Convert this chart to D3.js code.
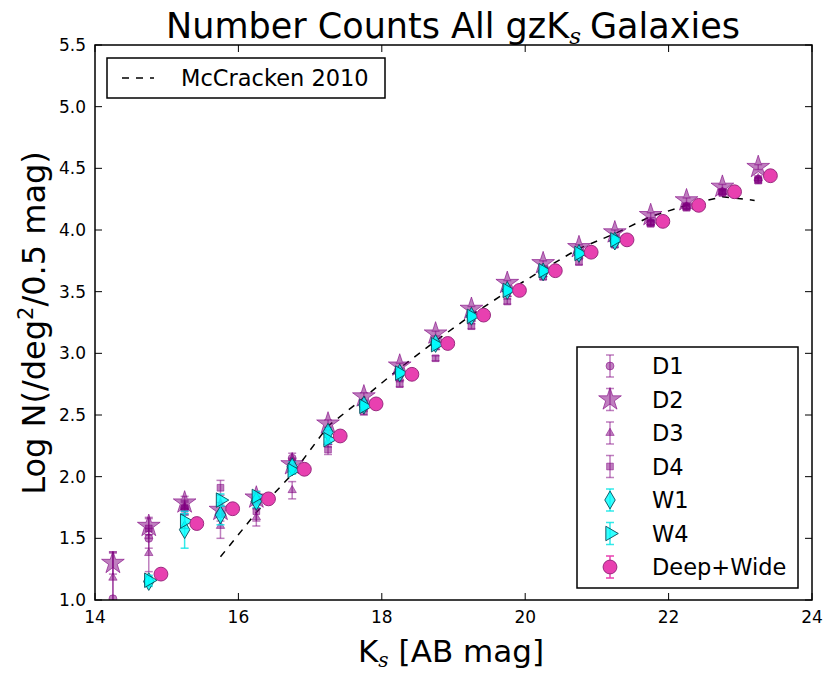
<!DOCTYPE html>
<html><head><meta charset="utf-8">
<script src="https://d3js.org/d3.v7.min.js"></script>
<style>body{margin:0;background:#fff}svg{font-family:"DejaVu Sans",sans-serif}</style>
</head><body><svg id="c" width="825" height="674"></svg>
<script>
const bins = [14.25,14.75,15.25,15.75,16.25,16.75,17.25,17.75,18.25,18.75,19.25,19.75,20.25,20.75,21.25,21.75,22.25,22.75,23.25];
const d1 = [1.01,1.50,1.75,1.70,1.82,2.15,2.35,2.58,2.83,3.08,3.30,3.51,3.66,3.81,3.93,4.06,4.19,4.31,4.41];
const d1Err = [0.38,0.08,0.05,0.06,0.05,0.04,0.03,0.03,0.02,0.02,0.02,0.02,0.02,0.02,0.02,0.02,0.02,0.02,0.02];
const d2 = [1.30,1.60,1.79,1.73,1.83,2.10,2.43,2.65,2.90,3.16,3.36,3.57,3.73,3.86,3.98,4.12,4.24,4.35,4.51];
const d2Err = [0.09,0.07,0.05,0.06,0.05,0.04,0.03,0.03,0.02,0.02,0.02,0.02,0.02,0.02,0.02,0.02,0.02,0.02,0.02];
const d3v = [1.18,1.38,1.75,1.60,1.67,1.89,2.28,2.56,2.80,3.05,3.28,3.48,3.64,3.79,3.92,4.06,4.19,4.31,4.42];
const d3Err = [0.20,0.15,0.06,0.10,0.07,0.07,0.04,0.03,0.02,0.02,0.02,0.02,0.02,0.02,0.02,0.02,0.02,0.02,0.02];
const d4 = [null,1.58,1.74,1.91,1.72,2.10,2.22,2.53,2.75,2.96,3.22,3.42,3.62,3.74,3.88,4.05,4.18,4.30,4.40];
const d4Err = [0,0.08,0.05,0.06,0.08,0.05,0.04,0.03,0.02,0.02,0.02,0.02,0.02,0.02,0.02,0.02,0.02,0.02,0.02];
const wBins = [14.75,15.25,15.75,16.25,16.75,17.25,17.75,18.25,18.75,19.25,19.75,20.25,20.75,21.25];
const w1 = [1.15,1.57,1.69,1.80,2.08,2.36,2.58,2.84,3.08,3.30,3.51,3.66,3.81,3.91];
const w1Err = [0.04,0.15,0.08,0.05,0.04,0.03,0.02,0.02,0.02,0.02,0.02,0.02,0.02,0.02];
const w4 = [1.16,1.64,1.81,1.84,2.05,2.30,2.57,2.84,3.07,3.30,3.51,3.67,3.81,3.92];
const w4Err = [0.04,0.06,0.05,0.04,0.03,0.03,0.02,0.02,0.02,0.02,0.02,0.02,0.02,0.02];
const dwX = [14.92,15.42,15.92,16.42,16.92,17.42,17.92,18.42,18.92,19.42,19.92,20.42,20.92,21.42,21.92,22.42,22.92,23.42];
const dw = [1.21,1.62,1.74,1.82,2.06,2.33,2.59,2.83,3.08,3.31,3.51,3.67,3.82,3.92,4.07,4.20,4.31,4.44];
const mcX = [15.75,16.25,16.75,17.25,17.75,18.25,18.75,19.25,19.75,20.25,20.75,21.25,21.75,22.25,22.75,23.2];
const mcY = [1.35,1.71,2.02,2.41,2.64,2.88,3.10,3.31,3.50,3.68,3.85,3.97,4.11,4.20,4.27,4.24];
const xTicks = [14,16,18,20,22,24];
const yTicks = [1.0,1.5,2.0,2.5,3.0,3.5,4.0,4.5,5.0,5.5];

const svg = d3.select("#c");
const L=95,R=812,T=45,B=600;
const x = d3.scaleLinear().domain([14,24]).range([L,R]);
const y = d3.scaleLinear().domain([1.0,5.5]).range([B,T]);

svg.append("defs").append("clipPath").attr("id","cp").append("rect")
  .attr("x",L).attr("y",T).attr("width",R-L).attr("height",B-T);
const plot = svg.append("g").attr("clip-path","url(#cp)");

plot.append("path").datum(mcX.map((v,i)=>[v,mcY[i]]))
  .attr("d",d3.line().x(d=>x(d[0])).y(d=>y(d[1])))
  .attr("fill","none").attr("stroke","#000").attr("stroke-width",1.5).attr("stroke-dasharray","7,7");

const PURPLE="#800080";
function series(xs, ys, errs, symType, size, fill, fop, stroke, sop, ecol, eop){
  const g = plot.append("g");
  const data = xs.map((v,i)=>({x:v,y:ys[i],e:errs?errs[i]:0})).filter(d=>d.y!=null);
  if(errs){
    data.forEach(d=>{
      const y0=y(d.y-d.e), y1=y(d.y+d.e), xx=x(d.x);
      g.append("line").attr("x1",xx).attr("x2",xx).attr("y1",y0).attr("y2",y1).attr("stroke",ecol).attr("stroke-opacity",eop).attr("stroke-width",1.5);
      [y0,y1].forEach(yy=>g.append("line").attr("x1",xx-4).attr("x2",xx+4).attr("y1",yy).attr("y2",yy).attr("stroke",ecol).attr("stroke-opacity",eop).attr("stroke-width",1.5));
    });
  }
  g.selectAll("path.m").data(data).join("path").attr("class","m")
    .attr("d",d3.symbol().type(symType).size(size))
    .attr("transform",d=>`translate(${x(d.x)},${y(d.y)})`)
    .attr("fill",fill).attr("fill-opacity",fop).attr("stroke",stroke).attr("stroke-opacity",sop).attr("stroke-width",1);
}
const diamond = {draw(ctx,size){const w=Math.sqrt(size)*0.5,h=Math.sqrt(size)*0.85;ctx.moveTo(0,-h);ctx.lineTo(w,0);ctx.lineTo(0,h);ctx.lineTo(-w,0);ctx.closePath();}};
const tri = {draw(ctx,size){const r=Math.sqrt(size)*0.62;ctx.moveTo(0,-r);ctx.lineTo(r*0.87,r*0.5);ctx.lineTo(-r*0.87,r*0.5);ctx.closePath();}};
const triR = {draw(ctx,size){const r=Math.sqrt(size)*0.62;ctx.moveTo(r,0);ctx.lineTo(-r*0.5,r*0.87);ctx.lineTo(-r*0.5,-r*0.87);ctx.closePath();}};

const specs = [
  [d3.symbolCircle,50,PURPLE,0.5,PURPLE,0.5,PURPLE,0.5],
  [d3.symbolStar,160,PURPLE,0.5,PURPLE,0.6,PURPLE,0.5],
  [tri,60,PURPLE,0.5,PURPLE,0.5,PURPLE,0.5],
  [d3.symbolSquare,45,PURPLE,0.5,PURPLE,0.5,PURPLE,0.5],
  [diamond,110,"#00ffff",0.8,"#0b4a5a",0.9,"#00e5e5",0.8],
  [triR,180,"#00ffff",0.8,"#0b4a5a",0.9,"#00e5e5",0.8],
  [d3.symbolCircle,150,"#e840b0",1,"#9a2a80",1,"#e840b0",1]
];
series(bins,d1,d1Err,...specs[0]);
series(bins,d2,d2Err,...specs[1]);
series(bins,d3v,d3Err,...specs[2]);
series(bins,d4,d4Err,...specs[3]);
series(wBins,w1,w1Err,...specs[4]);
series(wBins,w4,w4Err,...specs[5]);
series(dwX,dw,null,...specs[6]);

const ax = svg.append("g").attr("font-size",17).attr("fill","#000");
ax.append("rect").attr("x",L).attr("y",T).attr("width",R-L).attr("height",B-T).attr("fill","none").attr("stroke","#000").attr("stroke-width",1.5);
xTicks.forEach(t=>{
  const xx=x(t);
  ax.append("line").attr("x1",xx).attr("x2",xx).attr("y1",B).attr("y2",B-7).attr("stroke","#000");
  ax.append("line").attr("x1",xx).attr("x2",xx).attr("y1",T).attr("y2",T+7).attr("stroke","#000");
  ax.append("text").attr("x",xx).attr("y",B+23).attr("text-anchor","middle").text(t);
});
yTicks.forEach(t=>{
  const yy=y(t);
  ax.append("line").attr("x1",L).attr("x2",L+7).attr("y1",yy).attr("y2",yy).attr("stroke","#000");
  ax.append("line").attr("x1",R).attr("x2",R-7).attr("y1",yy).attr("y2",yy).attr("stroke","#000");
  ax.append("text").attr("x",L-9).attr("y",yy+6).attr("text-anchor","end").text(t.toFixed(1));
});

const title = svg.append("text").attr("x",453).attr("y",38).attr("text-anchor","middle").attr("font-size",35);
title.append("tspan").text("Number Counts All gzK");
title.append("tspan").attr("font-size",23).attr("font-family","DejaVu Serif").attr("font-style","italic").attr("dy",6).text("s");
title.append("tspan").attr("dx",9).attr("dy",-6).text("Galaxies");

const xl = svg.append("text").attr("x",451).attr("y",662).attr("text-anchor","middle").attr("font-size",31);
xl.append("tspan").text("K");
xl.append("tspan").attr("font-size",20).attr("font-family","DejaVu Serif").attr("font-style","italic").attr("dy",5).text("s");
xl.append("tspan").attr("dx",10).attr("dy",-5).text("[AB mag]");

const yl = svg.append("text").attr("transform","translate(45,323) rotate(-90)").attr("text-anchor","middle").attr("font-size",32);
yl.append("tspan").text("Log N(/deg");
yl.append("tspan").attr("font-size",21).attr("dy",-12).text("2");
yl.append("tspan").attr("dy",12).text("/0.5 mag)");

const lg1 = svg.append("g");
lg1.append("rect").attr("x",107).attr("y",58).attr("width",278).attr("height",40).attr("fill","#fff").attr("stroke","#000").attr("stroke-width",1.5);
lg1.append("line").attr("x1",122).attr("x2",154).attr("y1",78).attr("y2",78).attr("stroke","#000").attr("stroke-width",1.5).attr("stroke-dasharray","7,7");
lg1.append("text").attr("x",181).attr("y",86).attr("font-size",22.5).text("McCracken 2010");

const lg2 = svg.append("g");
lg2.append("rect").attr("x",577).attr("y",347).attr("width",221).attr("height",241).attr("fill","#fff").attr("stroke","#000").attr("stroke-width",1.5);
const legNames = ["D1","D2","D3","D4","W1","W4","Deep+Wide"];
legNames.forEach((n,i)=>{
  const yy = 366 + i*33.5, xx=610;
  const s=specs[i];
  lg2.append("line").attr("x1",xx).attr("x2",xx).attr("y1",yy-11).attr("y2",yy+11).attr("stroke",s[6]).attr("stroke-opacity",s[7]).attr("stroke-width",1.5);
  [yy-11,yy+11].forEach(q=>lg2.append("line").attr("x1",xx-4).attr("x2",xx+4).attr("y1",q).attr("y2",q).attr("stroke",s[6]).attr("stroke-opacity",s[7]).attr("stroke-width",1.5));
  lg2.append("path").attr("d",d3.symbol().type(s[0]).size(s[1])).attr("transform",`translate(${xx},${yy})`)
    .attr("fill",s[2]).attr("fill-opacity",s[3]).attr("stroke",s[4]).attr("stroke-opacity",s[5]);
  lg2.append("text").attr("x",652).attr("y",yy+8).attr("font-size",22.5).text(n);
});
</script></body></html>
